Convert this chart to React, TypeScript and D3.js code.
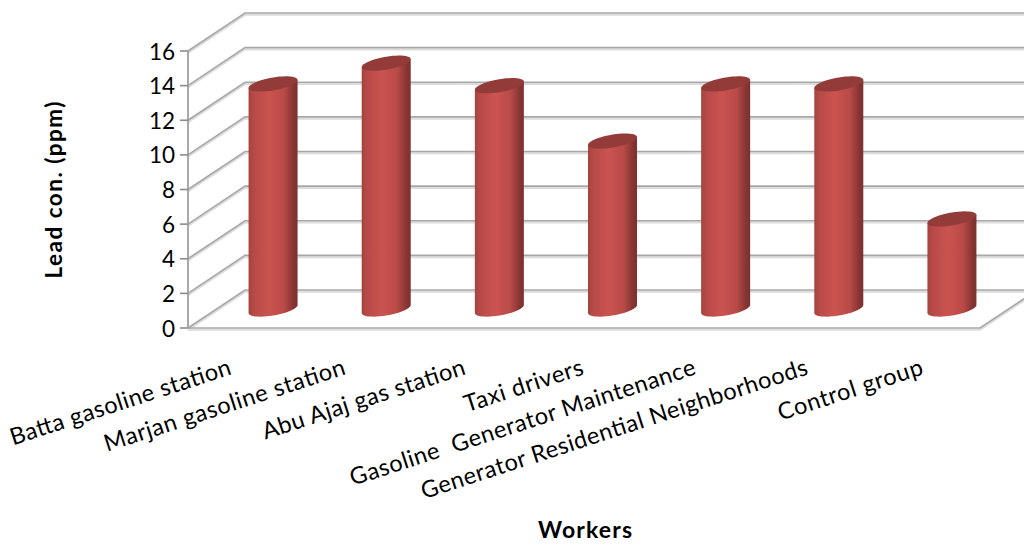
import React from "react";
import * as d3 from "d3";

const categories = [
  "Batta gasoline station",
  "Marjan gasoline station",
  "Abu Ajaj gas station",
  "Taxi drivers",
  "Gasoline  Generator Maintenance",
  "Generator Residential Neighborhoods",
  "Control group",
];
const leadValues = [13, 14.2, 12.9, 9.7, 13, 13, 5.2];
const yTicks = [0, 2, 4, 6, 8, 10, 12, 14, 16];
// Rotated label run lengths and the shift of each label's end from its category centre.
const labelLengths = [231, 252, 212, 124, 362, 405, 151];
const labelShift = [-12, -11, -4, 1, 0, -1, 1];

const W = 1024;
const H = 544;
// Oblique projection: depth pushes marks up and to the right.
const DEPTH_X = 57;
const DEPTH_Y = -38;
const FONT = "Lato, 'Open Sans', sans-serif";

const x = d3.scaleBand<string>().domain(categories).range([188, 980]);
const y = d3.scaleLinear().domain([0, 16]).range([328, 51]);

// Cylinder cap outline: an ellipse sheared so its right side sits higher.
function capPath(cx: number, cy: number, a: number, b: number, shear: number) {
  const pts = d3.range(0, 49).map((i) => {
    const t = (i / 48) * 2 * Math.PI;
    return [cx + a * Math.cos(t), cy + b * Math.sin(t) - shear * Math.cos(t)] as [number, number];
  });
  return d3.line()(pts) + "Z";
}

function cylinderPath(cx: number, top: number, base: number, a: number, b: number, shear: number) {
  const lower = d3.range(0, 25).map((i) => {
    const t = (i / 24) * Math.PI;
    return [cx + a * Math.cos(t), base + b * Math.sin(t) - shear * Math.cos(t)] as [number, number];
  });
  const upper: [number, number][] = [
    [cx - a, top + shear],
    [cx + a, top - shear],
  ];
  return d3.line()([...lower, ...upper]) + "Z";
}

function GridLine({ d }: { d: string }) {
  return (
    <g fill="none">
      <path d={d} stroke="#dcdcdc" strokeWidth={2} transform="translate(0,1.8)" />
      <path d={d} stroke="#a8a8a8" strokeWidth={1.7} />
    </g>
  );
}

export default function App() {
  const bandW = x.bandwidth();
  const a = 24.5;
  const b = 6.5;
  const shear = 4;
  return (
    <svg
      width={W}
      height={H}
      viewBox={`0 0 ${W} ${H}`}
      style={{ position: "absolute", left: 0, top: 0, background: "#fff" }}
    >
      <defs>
        <linearGradient id="cyl" x1="0" x2="1" y1="0" y2="0">
          <stop offset="0" stopColor="#a5423f" />
          <stop offset="0.12" stopColor="#b84b48" />
          <stop offset="0.42" stopColor="#cb5350" />
          <stop offset="0.72" stopColor="#b94b48" />
          <stop offset="0.92" stopColor="#863432" />
          <stop offset="1" stopColor="#7c302e" />
        </linearGradient>
        <filter id="soft" x="-10%" y="-10%" width="120%" height="120%">
          <feGaussianBlur stdDeviation="0.6" />
        </filter>
      </defs>

      {/* Walls and floor */}
      {yTicks.map((t) => (
        <GridLine
          key={t}
          d={`M${x.range()[0]},${y(t)}L${x.range()[0] + DEPTH_X},${y(t) + DEPTH_Y}L${W + 10},${y(t) + DEPTH_Y}`}
        />
      ))}
      <GridLine d={`M188,${y(0)}L${x.range()[1]},${y(0)}L${x.range()[1] + DEPTH_X},${y(0) + DEPTH_Y}`} />

      {/* Value axis */}
      <path d={`M188,${y(16)}V${y(0)}`} stroke="#a0a0a0" strokeWidth={1.8} fill="none" />
      {yTicks.map((t) => (
        <g key={t}>
          <line x1={180} x2={188} y1={y(t)} y2={y(t)} stroke="#8c8c8c" strokeWidth={1.6} />
          <text x={175} y={y(t) + 8.5} textAnchor="end" fontFamily={FONT} fontSize={22.5} fill="#000">
            {t}
          </text>
        </g>
      ))}

      {/* Cylinders stand halfway into the depth */}
      {categories.map((c, i) => {
        const cx = x(c)! + bandW / 2 + DEPTH_X / 2;
        const base = y(0) + DEPTH_Y / 2;
        const top = y(leadValues[i]) + DEPTH_Y / 2;
        return (
          <g key={c} filter="url(#soft)">
            <path d={cylinderPath(cx, top, base, a, b, shear)} fill="url(#cyl)" />
            <path d={capPath(cx, top, a, b, shear)} fill="#933b39" />
          </g>
        );
      })}

      {/* Category labels */}
      {categories.map((c, i) => {
        const ex = x(c)! + bandW / 2 + labelShift[i];
        return (
          <text
            key={c}
            transform={`translate(${ex},374) rotate(-18)`}
            textAnchor="end"
            fontFamily={FONT}
            fontSize={23.5}
            fill="#000"
            textLength={labelLengths[i]}
            lengthAdjust="spacing"
            xmlSpace="preserve"
          >
            {c}
          </text>
        );
      })}

      {/* Axis titles */}
      <text
        transform="translate(62,190) rotate(-90)"
        textAnchor="middle"
        fontFamily={FONT}
        fontWeight={700}
        fontSize={22.5}
        fill="#000"
        textLength={177}
        lengthAdjust="spacing"
      >
        Lead con. (ppm)
      </text>
      <text
        x={585}
        y={538}
        textAnchor="middle"
        fontFamily={FONT}
        fontWeight={700}
        fontSize={23}
        fill="#000"
        textLength={94}
        lengthAdjust="spacing"
      >
        Workers
      </text>
    </svg>
  );
}
